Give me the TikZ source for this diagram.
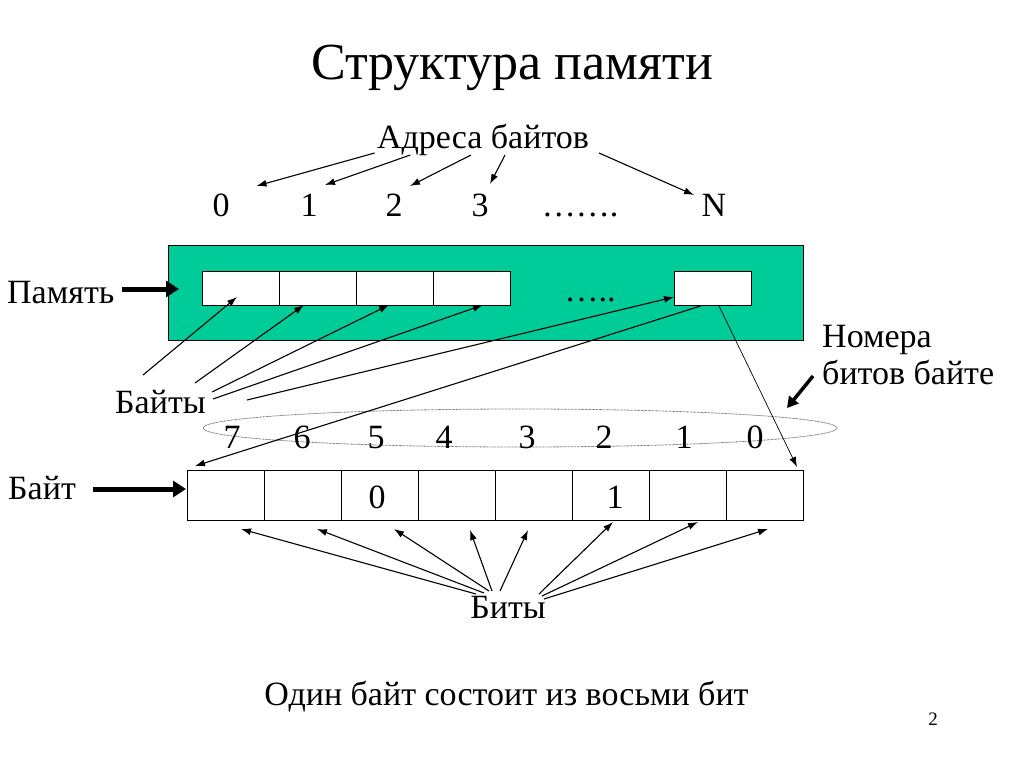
\documentclass[tikz,border=0pt]{standalone}
\usepackage{fontspec}
\setmainfont{Liberation Serif}
\usetikzlibrary{arrows.meta,shapes.geometric}
\definecolor{memgreen}{RGB}{0,204,153}
\newcommand{\fsz}[1]{\fontsize{#1}{#1}\selectfont}
\begin{document}
\begin{tikzpicture}[x=1pt,y=-1pt,
  lbl/.style={inner sep=0pt,anchor=base,font=\fsz{34}},
  lblw/.style={inner sep=0pt,anchor=base west,font=\fsz{34}},
  arr/.style={-{Latex[length=10pt,width=7pt]},line width=1.1pt},
  thinarr/.style={-{Latex[length=10pt,width=7pt]},line width=0.7pt},
  fat/.style={-{Triangle[length=13pt,width=16pt]},line width=5pt},
  cell/.style={draw,fill=white,line width=0.8pt,minimum width=77pt,minimum height=34pt,inner sep=0pt},
  bitcell/.style={draw,fill=white,line width=0.8pt,minimum width=77pt,minimum height=50pt,inner sep=0pt}]
\useasboundingbox[fill=white] (0,0) rectangle (1024,767);

% title and addresses
\node[lbl,font=\fsz{52}] (title) at (512,80) {Структура памяти};
\node[lbl] (addr) at (483,149) {Адреса байтов};
\node[lbl] (d0) at (221,217) {0};
\node[lbl] (d1) at (309,217) {1};
\node[lbl] (d2) at (394,217) {2};
\node[lbl] (d3) at (480,217) {3};
\node[lbl] (ddots) at (580,217) {…….};
\node[lbl] (dN) at (714,217) {N};

\coordinate (a1s) at (374.6,153); \coordinate (a1e) at (256.5,186);
\coordinate (a2s) at (410.3,155); \coordinate (a2e) at (325,185);
\coordinate (a3s) at (471,155);   \coordinate (a3e) at (410,186);
\coordinate (a4s) at (505,155);   \coordinate (a4e) at (490,184);
\coordinate (a5s) at (599,153);   \coordinate (a5e) at (694,195);
\draw[arr] (a1s) -- (a1e);
\draw[arr] (a2s) -- (a2e);
\draw[arr] (a3s) -- (a3e);
\draw[arr] (a4s) -- (a4e);
\draw[arr] (a5s) -- (a5e);

% memory
\node[draw,fill=memgreen,line width=0.8pt,minimum width=635pt,minimum height=95pt,inner sep=0pt] (mem) at (485.5,292.5) {};
\node[cell] (c1) at (241,288) {};
\node[cell] (c2) at (318,288) {};
\node[cell] (c3) at (395,288) {};
\node[cell] (c4) at (472,288) {};
\node[cell] (cN) at (713,288) {};
\node[lbl] (mdots) at (590,301) {…..};

\node[lblw] (pam) at (7,303) {Память};
\coordinate (pamS) at (122,289); \coordinate (pamE) at (179,289);
\draw[fat] (pamS) -- (pamE);

% right labels
\node[lblw] (nom) at (822,347) {Номера};
\node[lblw] (bitb) at (822,384) {битов байте};
\coordinate (bbS) at (813,376); \coordinate (bbE) at (787,408);
\draw[-{Triangle[length=11pt,width=12pt]},line width=3.5pt] (bbS) -- (bbE);

% ellipse with bit numbers
\node[draw=black!55,line width=0.8pt,dash pattern=on 0.8pt off 0.6pt,ellipse,minimum width=634pt,minimum height=38pt,inner sep=0pt] (ell) at (520,428) {};
\node[lbl] (n7) at (232,448) {7};
\node[lbl] (n6) at (302,448) {6};
\node[lbl] (n5) at (376,448) {5};
\node[lbl] (n4) at (444,448) {4};
\node[lbl] (n3) at (527,448) {3};
\node[lbl] (n2) at (604,448) {2};
\node[lbl] (n1) at (684,448) {1};
\node[lbl] (n0) at (755,448) {0};

% byte
\node[bitcell] (b1) at (225.5,495) {};
\node[bitcell] (b2) at (302.5,495) {};
\node[bitcell] (b3) at (379.5,495) {};
\node[bitcell] (b4) at (456.5,495) {};
\node[bitcell] (b5) at (533.5,495) {};
\node[bitcell] (b6) at (610.5,495) {};
\node[bitcell] (b7) at (687.5,495) {};
\node[bitcell] (b8) at (764.5,495) {};
\node[lbl] (v0) at (377,508) {0};
\node[lbl] (v1) at (615,508) {1};

\node[lblw] (bytel) at (8,499) {Байт};
\coordinate (byS) at (93,489); \coordinate (byE) at (186,489);
\draw[fat] (byS) -- (byE);

% Bytes label and its lines
\node[lblw] (bytes) at (115,413) {Байты};
\coordinate (l1) at (143,375); \coordinate (t1) at (237,297);
\coordinate (l2) at (195,383); \coordinate (t2) at (304,305);
\coordinate (l3) at (212,392); \coordinate (t3) at (389,305);
\coordinate (l4) at (213,399); \coordinate (t4) at (483,305);
\coordinate (l5) at (247,400); \coordinate (t5) at (674,297);
\draw[arr] (l1) -- (t1);
\draw[arr] (l2) -- (t2);
\draw[arr] (l3) -- (t3);
\draw[arr] (l4) -- (t4);
\draw[arr] (l5) -- (t5);

% lines from last cell to the byte
\coordinate (nA) at (700.5,306); \coordinate (nAe) at (195,466);
\coordinate (nB) at (719,306);   \coordinate (nBe) at (797,467);
\draw[arr] (nA) -- (nAe);
\draw[thinarr] (nB) -- (nBe);

% bits
\node[lbl] (bits) at (508,618) {Биты};
\coordinate (s1) at (476,594); \coordinate (e1) at (241,529);
\coordinate (s2) at (484,593); \coordinate (e2) at (317,529);
\coordinate (s3) at (489,591); \coordinate (e3) at (394,529);
\coordinate (s4) at (492,591); \coordinate (e4) at (470,530);
\coordinate (s5) at (500,591); \coordinate (e5) at (528,530);
\coordinate (s6) at (539,594); \coordinate (e6) at (613,522);
\coordinate (s7) at (542,596); \coordinate (e7) at (698,522);
\coordinate (s8) at (544,599); \coordinate (e8) at (768,529);
\foreach \i in {1,...,8} {\draw[arr] (s\i) -- (e\i);}

\node[lbl] (sent) at (506.5,705) {Один байт состоит из восьми бит};
\node[lbl,font=\fsz{19}] (page) at (933,725) {2};
\end{tikzpicture}
\end{document}
